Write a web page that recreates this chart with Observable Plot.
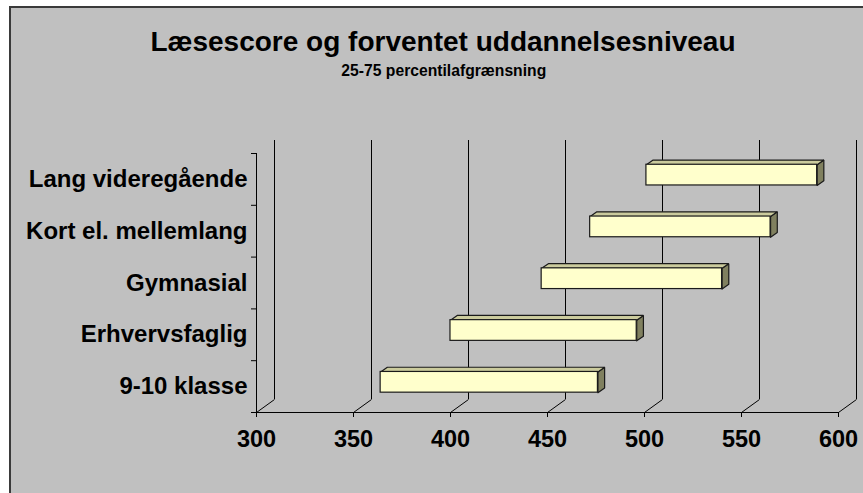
<!DOCTYPE html>
<html><head><meta charset="utf-8">
<script src="https://cdn.jsdelivr.net/npm/d3@7"></script>
<script src="https://cdn.jsdelivr.net/npm/@observablehq/plot@0.6"></script>
<style>
html,body{margin:0;padding:0;background:#fff;width:863px;height:493px;overflow:hidden;}
#box{position:absolute;left:9px;top:6px;width:900px;height:600px;background:#c0c0c0;border-left:2px solid #3a3a3a;border-top:2px solid #3a3a3a;}
.t{position:absolute;left:0;text-align:center;font-family:"Liberation Sans",Arial,sans-serif;font-weight:bold;color:#000;white-space:nowrap;}
#title{font-size:28px;line-height:28px;top:28.3px;width:886px;}
#sub{font-size:15.7px;line-height:15.7px;top:62.5px;width:887.6px;}
#chart{position:absolute;left:0;top:0;}
#chart svg text{font-family:"Liberation Sans",Arial,sans-serif;font-weight:bold;}
</style></head><body>
<div id="box"></div>
<div class="t" id="title">Læsescore og forventet uddannelsesniveau</div>
<div class="t" id="sub">25-75 percentilafgrænsning</div>
<div id="chart"></div>
<script>
// data
const categories = ["9-10 klasse", "Erhvervsfaglig", "Gymnasial", "Kort el. mellemlang", "Lang videregående"];
const p25 = [361, 397, 444, 469, 498];
const p75 = [473, 493, 537, 562, 586];
const xTicks = [300, 350, 400, 450, 500, 550, 600];

// layout
const W = 863, H = 493, ML = 256, MR = 25, MT = 153, MB = 81;
const xDom = [300, 600], yDom = [0, categories.length];
const kx = (W - ML - MR) / (xDom[1] - xDom[0]);
const ky = (H - MT - MB) / (yDom[1] - yDom[0]);
const wallDX = 18, wallDY = 13;       // depth of chart walls (px)
const barDX = 6.7, barDY = 4.7;       // depth of bars (px)
const shiftDX = 5.8, shiftDY = -4.3;  // bars sit mid-depth
const ink = "#1a1a1a";

const bars = categories.map((c, i) => ({c, i, lo: p25[i], hi: p75[i], y1: i + 0.3, y2: i + 0.7}));
const bdx = barDX / kx, bdy = barDY / ky;
const topFaces = bars.flatMap(b => [
  {id: b.i, x: b.lo, y: b.y2}, {id: b.i, x: b.hi, y: b.y2},
  {id: b.i, x: b.hi + bdx, y: b.y2 + bdy}, {id: b.i, x: b.lo + bdx, y: b.y2 + bdy},
  {id: b.i, x: b.lo, y: b.y2}
]);
const sideFaces = bars.flatMap(b => [
  {id: b.i, x: b.hi, y: b.y1}, {id: b.i, x: b.hi, y: b.y2},
  {id: b.i, x: b.hi + bdx, y: b.y2 + bdy}, {id: b.i, x: b.hi + bdx, y: b.y1 + bdy},
  {id: b.i, x: b.hi, y: b.y1}
]);

const chart = Plot.plot({
  width: W, height: H,
  marginLeft: ML, marginRight: MR, marginTop: MT, marginBottom: MB,
  style: {background: "transparent", fontFamily: "Liberation Sans, Arial, sans-serif", fontWeight: "bold"},
  x: {domain: xDom},
  y: {domain: yDom},
  marks: [
    // back wall gridlines (incl. left wall back edge)
    Plot.ruleX(xTicks, {x: d => d, dx: wallDX, dy: -wallDY, stroke: "#000", strokeWidth: 1}),
    // floor diagonals
    Plot.link(xTicks, {x1: d => d, y1: 0, x2: d => d + wallDX / kx, y2: wallDY / ky, stroke: "#000", strokeWidth: 1}),
    // front left edge & baseline
    Plot.ruleX([xDom[0]], {stroke: "#000", strokeWidth: 1}),
    Plot.ruleY([0], {stroke: "#000", strokeWidth: 1}),
    // category boundary ticks
    Plot.axisY(d3.range(categories.length + 1), {tickSize: 5, tickFormat: () => "", stroke: "#000"}),
    // category labels
    Plot.axisY(categories.map((c, i) => i + 0.5), {
      tickSize: 0, tickPadding: 9, tickFormat: d => categories[Math.floor(d)],
      fontSize: 24, fontWeight: "bold", fill: "#000"
    }),
    // x axis
    Plot.axisX(xTicks, {tickSize: 5, tickPadding: 13, tickFormat: d => String(d), fontSize: 23.5, fontWeight: "bold", fill: "#000", stroke: "#000"}),
    // 3D bars
    Plot.line(sideFaces, {x: "x", y: "y", z: "id", fill: "#80805f", stroke: ink, strokeWidth: 1.2, strokeLinejoin: "miter", curve: "linear", dx: shiftDX, dy: shiftDY}),
    Plot.line(topFaces, {x: "x", y: "y", z: "id", fill: "#cbcb9d", stroke: ink, strokeWidth: 1.2, strokeLinejoin: "miter", curve: "linear", dx: shiftDX, dy: shiftDY}),
    Plot.rect(bars, {x1: "lo", x2: "hi", y1: "y1", y2: "y2", fill: "#ffffcc", stroke: ink, strokeWidth: 1.2, dx: shiftDX, dy: shiftDY})
  ]
});
document.getElementById("chart").appendChild(chart);
</script>
</body></html>
